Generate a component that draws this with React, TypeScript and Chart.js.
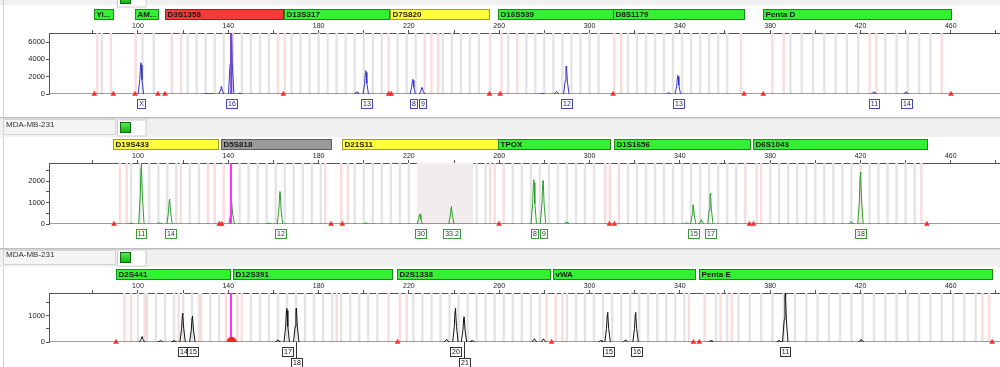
import React, { useEffect, useRef } from "react";
import { Chart, registerables } from "chart.js";

Chart.register(...registerables);

const FONT = 'Arial, "Liberation Sans", sans-serif';
const SAMPLE_NAME = "MDA-MB-231";

// shared size axis (bp)
const X_MIN = 60.6;
const X_MAX = 481.8;
const xTickValues = [80, 100, 120, 140, 160, 180, 200, 220, 240, 260, 280, 300, 320, 340, 360, 380, 400, 420, 440, 460, 480];
const xTickLabels = [100, 140, 180, 220, 260, 300, 340, 380, 420, 460];

// ---------- Panel 1 (blue dye) ----------
const p1LocusNames = ["Yi...", "AM...", "D3S1358", "D13S317", "D7S820", "D16S539", "D8S1179", "Penta D"];
const p1LocusStart = [80.5, 98.7, 112.0, 164.7, 211.6, 259.5, 310.6, 376.9];
const p1LocusEnd = [88.9, 108.9, 164.2, 211.2, 255.5, 310.2, 368.4, 460.1];
const p1LocusKind = ["green", "green", "red", "green", "yellow", "green", "green", "green"];
const p1PeakSizes = [101.3, 130.5, 132.6, 136.9, 141.3, 145.0, 196.9, 200.9, 221.7, 225.8, 279.0, 285.4, 289.7, 335.0, 339.1, 425.9, 440.2];
const p1PeakHeights = [3600, 60, 60, 840, 7600, 80, 250, 2690, 1700, 770, 80, 280, 3230, 150, 2160, 250, 250];
const p1AlleleSizes = [101.3, 141.3, 200.9, 221.7, 225.8, 289.7, 339.1, 425.9, 440.2];
const p1AlleleTexts = ["X", "16", "13", "8", "9", "12", "13", "11", "14"];
const p1AlleleRows = [0, 0, 0, 0, 0, 0, 0, 0, 0];
const p1Markers = [141.3];
const p1Triangles = [80.7, 89.1, 98.7, 108.8, 112.0, 164.4, 211.0, 212.2, 255.7, 260.4, 310.4, 368.4, 376.9, 460.1];
const p1Blobs: number[] = [];
const p1YTicks = [0, 1000, 2000, 3000, 4000, 5000, 6000, 7000];
const p1YLabels = [0, 2000, 4000, 6000];
const p1GreyBins = [84, 102, 107, 122, 126, 130, 134, 138, 142, 146, 150, 154, 158, 168, 172, 176, 180, 184, 188, 192, 196, 200, 204, 208, 215, 219, 223, 235, 239, 243, 247, 251, 264, 272, 276, 280, 284, 288, 292, 296, 300, 304, 317, 321, 325, 329, 333, 337, 341, 345, 349, 353, 357, 361, 389, 394, 399, 404, 409, 414, 419, 431, 436, 441, 446, 451];
const p1PinkBins = [82, 88, 99, 115, 119, 162, 165, 211, 227, 230, 233, 256, 261, 268, 311, 314, 367, 381, 386, 424, 427, 456];
const p1Bands: number[][] = [];

// ---------- Panel 2 (green dye) ----------
const p2LocusNames = ["D19S433", "D5S818", "D21S11", "TPOX", "D1S1656", "D6S1043"];
const p2LocusStart = [88.9, 136.8, 190.4, 259.5, 310.9, 372.4];
const p2LocusEnd = [135.4, 185.5, 259.3, 309.1, 371.1, 449.5];
const p2LocusKind = ["yellow", "grey", "yellow", "green", "green", "green"];
const p2PeakSizes = [97.0, 101.5, 109.5, 114.0, 141.5, 158.0, 162.9, 201.0, 224.8, 238.8, 275.3, 279.4, 289.9, 343.0, 345.9, 349.5, 353.5, 416.0, 420.0];
const p2PeakHeights = [50, 2800, 60, 1160, 970, 40, 1520, 60, 470, 810, 2070, 2020, 100, 60, 890, 200, 1440, 120, 2430];
const p2AlleleSizes = [101.5, 114.0, 162.9, 224.8, 238.8, 275.3, 279.4, 345.9, 353.5, 420.0];
const p2AlleleTexts = ["11", "14", "12", "30", "33.2", "8", "9", "15", "17", "18"];
const p2AlleleRows = [0, 0, 0, 0, 0, 0, 0, 0, 0, 0];
const p2Markers = [141.2];
const p2Triangles = [89.4, 136.0, 137.1, 185.5, 190.5, 259.9, 308.8, 311.0, 370.8, 372.6, 449.4];
const p2Blobs: number[] = [];
const p2YTicks = [0, 500, 1000, 1500, 2000, 2500];
const p2YLabels = [0, 1000, 2000];
const p2GreyBins = [97, 101, 105, 109, 113, 117, 123, 127, 141, 145, 149, 153, 157, 161, 165, 169, 173, 177, 181, 196, 200, 204, 208, 212, 216, 220, 250, 254, 266, 270, 274, 278, 282, 286, 290, 294, 298, 302, 317, 321, 325, 329, 333, 337, 341, 345, 349, 353, 357, 361, 365, 380, 384, 388, 392, 396, 400, 404, 408, 412, 416, 424, 428, 432, 436, 440, 444];
const p2PinkBins = [92, 95, 119, 131, 134, 138, 183, 190, 193, 256, 258, 262, 307, 309, 313, 369, 374, 376, 420, 447];
const p2Bands = [[223.5, 248.5]];

// ---------- Panel 3 (black dye) ----------
const p3LocusNames = ["D2S441", "D12S391", "D2S1338", "vWA", "Penta E"];
const p3LocusStart = [90.3, 142.1, 214.7, 283.8, 348.5];
const p3LocusEnd = [140.8, 212.5, 282.5, 346.7, 478.3];
const p3LocusKind = ["green", "green", "green", "green", "green"];
const p3PeakSizes = [101.8, 110.0, 116.0, 119.8, 124.1, 141.3, 162.0, 165.9, 170.1, 236.7, 240.6, 244.4, 248.0, 275.6, 279.6, 305.0, 308.0, 316.0, 320.4, 353.7, 384.0, 386.7, 420.3];
const p3PeakHeights = [200, 60, 60, 1100, 1000, 250, 80, 1290, 1290, 100, 1290, 970, 60, 120, 120, 60, 1130, 80, 1130, 60, 60, 1860, 100];
const p3AlleleSizes = [119.8, 124.1, 165.9, 170.1, 240.6, 244.4, 308.0, 320.4, 386.7];
const p3AlleleTexts = ["14", "15", "17", "18", "20", "21", "15", "16", "11"];
const p3AlleleRows = [0, 0, 0, 1, 0, 1, 0, 0, 0];
const p3Markers = [141.2];
const p3Triangles = [90.3, 215.0, 283.2, 346.0, 348.6, 478.3];
const p3Blobs = [141.5];
const p3YTicks = [0, 500, 1000, 1500];
const p3YLabels = [0, 1000];
const p3GreyBins = [100, 104, 108, 112, 116, 120, 124, 128, 132, 136, 150, 154, 158, 162, 166, 170, 174, 178, 182, 186, 190, 194, 198, 202, 206, 222, 226, 230, 234, 238, 242, 246, 250, 254, 258, 262, 266, 270, 274, 278, 290, 294, 298, 302, 306, 310, 314, 318, 322, 326, 330, 334, 338, 342, 356, 361, 366, 371, 376, 381, 386, 391, 396, 401, 406, 411, 416, 421, 426, 431, 436, 441, 446, 451, 456, 461, 466, 471];
const p3PinkBins = [94, 97, 103, 118, 127, 139, 144, 146, 188, 211, 216, 219, 281, 285, 288, 344, 351, 358, 363, 474, 477];
const p3Bands: number[][] = [];

const LOCUS_STYLE: Record<string, { fill: string; stroke: string }> = {
  green: { fill: "#33f033", stroke: "#1b8a1b" },
  red: { fill: "#f63a3a", stroke: "#a02020" },
  yellow: { fill: "#ffff3a", stroke: "#a0a020" },
  grey: { fill: "#9a9a9a", stroke: "#606060" },
};

type Panel = {
  top: number; height: number; padTop: number; padBottom: number; barTop: number;
  fullHeader: boolean; labelY: number; squareY: number; headerH: number;
  yMax: number; yTicks: number[]; yLabels: number[];
  dye: string; dyeBorder: string; dyeText: string; markerColor: string;
  names: string[]; starts: number[]; ends: number[]; kinds: string[];
  peakSizes: number[]; peakHeights: number[];
  alleleSizes: number[]; alleleTexts: string[]; alleleRows: number[];
  markers: number[]; triangles: number[]; blobs: number[];
  greyBins: number[]; pinkBins: number[]; bands: number[][];
};

const PANELS: Panel[] = [
  {
    top: 0, height: 117, padTop: 19, padBottom: 23, barTop: 9,
    fullHeader: false, labelY: 0, squareY: -7, headerH: 5,
    yMax: 7040, yTicks: p1YTicks, yLabels: p1YLabels,
    dye: "#3535c8", dyeBorder: "#4646b4", dyeText: "#23237a", markerColor: "#7a3fd8",
    names: p1LocusNames, starts: p1LocusStart, ends: p1LocusEnd, kinds: p1LocusKind,
    peakSizes: p1PeakSizes, peakHeights: p1PeakHeights,
    alleleSizes: p1AlleleSizes, alleleTexts: p1AlleleTexts, alleleRows: p1AlleleRows,
    markers: p1Markers, triangles: p1Triangles, blobs: p1Blobs,
    greyBins: p1GreyBins, pinkBins: p1PinkBins, bands: p1Bands,
  },
  {
    top: 117, height: 131, padTop: 32, padBottom: 24, barTop: 22,
    fullHeader: true, labelY: 8, squareY: 5, headerH: 20,
    yMax: 2850, yTicks: p2YTicks, yLabels: p2YLabels,
    dye: "#2e9e2e", dyeBorder: "#3a9a3a", dyeText: "#1d3d1d", markerColor: "#ff33ff",
    names: p2LocusNames, starts: p2LocusStart, ends: p2LocusEnd, kinds: p2LocusKind,
    peakSizes: p2PeakSizes, peakHeights: p2PeakHeights,
    alleleSizes: p2AlleleSizes, alleleTexts: p2AlleleTexts, alleleRows: p2AlleleRows,
    markers: p2Markers, triangles: p2Triangles, blobs: p2Blobs,
    greyBins: p2GreyBins, pinkBins: p2PinkBins, bands: p2Bands,
  },
  {
    top: 248, height: 119, padTop: 31, padBottom: 25, barTop: 21,
    fullHeader: true, labelY: 7, squareY: 4, headerH: 19,
    yMax: 1875, yTicks: p3YTicks, yLabels: p3YLabels,
    dye: "#111111", dyeBorder: "#333333", dyeText: "#111111", markerColor: "#ff33ff",
    names: p3LocusNames, starts: p3LocusStart, ends: p3LocusEnd, kinds: p3LocusKind,
    peakSizes: p3PeakSizes, peakHeights: p3PeakHeights,
    alleleSizes: p3AlleleSizes, alleleTexts: p3AlleleTexts, alleleRows: p3AlleleRows,
    markers: p3Markers, triangles: p3Triangles, blobs: p3Blobs,
    greyBins: p3GreyBins, pinkBins: p3PinkBins, bands: p3Bands,
  },
];

const HW = 1.2;

function buildTrace(sizes: number[], heights: number[]) {
  const pts: { x: number; y: number | null }[] = [];
  sizes.forEach((s, i) => {
    const h = heights[i];
    pts.push(
      { x: s - HW, y: 0 },
      { x: s - HW * 0.4, y: h * 0.46 },
      { x: s - HW * 0.12, y: h * 0.93 },
      { x: s, y: h },
      { x: s + HW * 0.12, y: h * 0.93 },
      { x: s + HW * 0.4, y: h * 0.46 },
      { x: s + HW, y: 0 },
      { x: s + HW + 0.001, y: null }
    );
  });
  return pts;
}

function buildMarkers(sizes: number[], top: number) {
  const pts: { x: number; y: number | null }[] = [];
  sizes.forEach((s) => {
    pts.push({ x: s, y: 0 }, { x: s, y: top }, { x: s + 0.001, y: null });
  });
  return pts;
}

function makeChart(canvas: HTMLCanvasElement, p: Panel, idx: number) {
  const plugin = {
    id: "stripPanel" + idx,
    beforeDraw(chart: any) {
      const ctx = chart.ctx as CanvasRenderingContext2D;
      const W = chart.width;
      const H = chart.height;
      const xs = chart.scales.x;
      ctx.save();
      ctx.fillStyle = "#ffffff";
      ctx.fillRect(0, 0, W, H);
      // header strip
      if (p.fullHeader) {
        ctx.fillStyle = "#f0f0f0";
        ctx.fillRect(0, 0, W, p.headerH);
        ctx.fillStyle = "#bdbdbd";
        ctx.fillRect(0, 0, W, 1.5);
        ctx.fillStyle = "#f4f4f4";
        ctx.fillRect(3.5, 2.5, 112, p.headerH - 5);
        ctx.strokeStyle = "#d2d2d2";
        ctx.lineWidth = 1;
        ctx.strokeRect(3.5, 2.5, 112, p.headerH - 5);
        ctx.fillStyle = "#333333";
        ctx.font = "8px " + FONT;
        ctx.textAlign = "left";
        ctx.textBaseline = "middle";
        ctx.fillText(SAMPLE_NAME, 6, p.labelY);
      } else {
        ctx.fillStyle = "#f0f0f0";
        ctx.fillRect(0, 0, W, p.headerH);
      }
      // box with green square
      ctx.fillStyle = "#ffffff";
      ctx.fillRect(117.5, p.squareY - 2, 28.5, 16);
      ctx.strokeStyle = "#cccccc";
      ctx.lineWidth = 1;
      ctx.strokeRect(117.5, p.squareY - 2, 28.5, 16);
      const g = ctx.createLinearGradient(0, p.squareY, 0, p.squareY + 11);
      g.addColorStop(0, "#5cf05c");
      g.addColorStop(1, "#10b010");
      ctx.fillStyle = g;
      ctx.fillRect(120.5, p.squareY + 0.5, 10, 10);
      ctx.strokeStyle = "#0a6a0a";
      ctx.strokeRect(120.5, p.squareY + 0.5, 10, 10);
      // left frame line
      ctx.fillStyle = "#cfcfcf";
      ctx.fillRect(3, p.fullHeader ? p.headerH : 0, 1, H);
      // locus bars
      ctx.font = "bold 8px " + FONT;
      ctx.textAlign = "left";
      ctx.textBaseline = "middle";
      p.names.forEach((name, i) => {
        const x0 = Math.round(xs.getPixelForValue(p.starts[i])) + 0.5;
        const x1 = Math.round(xs.getPixelForValue(p.ends[i])) + 0.5;
        const st = LOCUS_STYLE[p.kinds[i]];
        ctx.fillStyle = st.fill;
        ctx.fillRect(x0, p.barTop + 0.5, x1 - x0, 10);
        ctx.strokeStyle = st.stroke;
        ctx.strokeRect(x0, p.barTop + 0.5, x1 - x0, 10);
        ctx.save();
        ctx.beginPath();
        ctx.rect(x0, p.barTop, x1 - x0, 11);
        ctx.clip();
        ctx.fillStyle = "#1a1a1a";
        ctx.fillText(name, x0 + 2, p.barTop + 6);
        ctx.restore();
      });
      ctx.restore();
    },
    beforeDatasetsDraw(chart: any) {
      const ctx = chart.ctx as CanvasRenderingContext2D;
      const xs = chart.scales.x;
      const a = chart.chartArea;
      ctx.save();
      ctx.beginPath();
      ctx.rect(a.left, a.top, a.right - a.left, a.bottom - a.top);
      ctx.clip();
      p.bands.forEach((b) => {
        const x0 = xs.getPixelForValue(b[0]);
        const x1 = xs.getPixelForValue(b[1]);
        ctx.fillStyle = "#f2ecec";
        ctx.fillRect(x0, a.top, x1 - x0, a.bottom - a.top);
      });
      p.greyBins.forEach((b) => {
        const x = xs.getPixelForValue(b);
        ctx.fillStyle = "#e4e4e4";
        ctx.fillRect(x - 1.2, a.top, 2.4, a.bottom - a.top);
      });
      p.pinkBins.forEach((b) => {
        const x = xs.getPixelForValue(b);
        ctx.fillStyle = "#f9dcdc";
        ctx.fillRect(x - 1.2, a.top, 2.4, a.bottom - a.top);
      });
      ctx.restore();
    },
    afterDatasetsDraw(chart: any) {
      const ctx = chart.ctx as CanvasRenderingContext2D;
      const xs = chart.scales.x;
      const base = chart.scales.y.getPixelForValue(0);
      ctx.save();
      ctx.font = "7px " + FONT;
      ctx.textAlign = "center";
      ctx.textBaseline = "middle";
      ctx.lineWidth = 1;
      p.alleleSizes.forEach((s, i) => {
        const x = Math.round(xs.getPixelForValue(s));
        const txt = p.alleleTexts[i];
        const w = Math.round(ctx.measureText(txt).width + 3);
        const top = Math.round(base + 5 + p.alleleRows[i] * 11) + 0.5;
        const left = Math.round(x - w / 2) + 0.5;
        ctx.strokeStyle = p.dyeBorder;
        if (p.alleleRows[i] > 0) {
          ctx.beginPath();
          ctx.moveTo(x + 0.5, base);
          ctx.lineTo(x + 0.5, top);
          ctx.stroke();
        }
        ctx.fillStyle = "#ffffff";
        ctx.fillRect(left, top, w, 9);
        ctx.strokeRect(left, top, w, 9);
        ctx.fillStyle = p.dyeText;
        ctx.fillText(txt, left + w / 2, top + 5);
      });
      ctx.restore();
    },
  };

  return new Chart(canvas, {
    type: "line",
    data: {
      datasets: [
        {
          type: "line",
          data: [{ x: X_MIN, y: 0 }, { x: X_MAX, y: 0 }],
          borderColor: "#3a3a3a",
          borderWidth: 1,
          pointRadius: 0,
          order: 6,
        } as any,
        {
          type: "line",
          data: buildTrace(p.peakSizes, p.peakHeights),
          borderColor: p.dye,
          borderWidth: 1,
          pointRadius: 0,
          spanGaps: false,
          order: 5,
        },
        {
          type: "line",
          data: buildMarkers(p.markers, p.yMax * 1.3),
          borderColor: p.markerColor,
          borderWidth: 2,
          pointRadius: 0,
          spanGaps: false,
          order: 4,
        },
        {
          type: "scatter",
          data: p.blobs.map((b) => ({ x: b, y: 0 })),
          pointRadius: 5,
          pointStyle: "circle",
          backgroundColor: "#ff2020",
          borderWidth: 0,
          clip: 0,
          order: 3,
        },
        {
          type: "scatter",
          data: p.triangles.map((t) => ({ x: t, y: 0 })),
          pointRadius: 3.3,
          pointStyle: "triangle",
          backgroundColor: "#ff2a2a",
          borderWidth: 0,
          clip: false,
          order: 2,
        },
      ] as any,
    },
    options: {
      responsive: false,
      animation: false,
      devicePixelRatio: 1,
      events: [],
      layout: { autoPadding: false, padding: { top: p.padTop, bottom: p.padBottom, left: 0, right: 0 } },
      plugins: { legend: { display: false }, tooltip: { enabled: false } },
      elements: { line: { tension: 0 } },
      scales: {
        x: {
          type: "linear",
          position: "top",
          min: X_MIN,
          max: X_MAX,
          afterBuildTicks: (s: any) => {
            s.ticks = xTickValues.map((v) => ({ value: v }));
          },
          afterFit: (s: any) => {
            s.height = 14;
          },
          ticks: {
            autoSkip: false,
            maxRotation: 0,
            padding: 0,
            color: "#222",
            font: { size: 7, family: FONT },
            callback: (v: any) => (xTickLabels.includes(Number(v)) ? String(v) : ""),
          },
          grid: { drawOnChartArea: false, drawTicks: true, tickLength: 3, color: "#555" },
          border: { display: true, color: "#555" },
        },
        y: {
          type: "linear",
          min: 0,
          max: p.yMax,
          afterBuildTicks: (s: any) => {
            s.ticks = p.yTicks.map((v) => ({ value: v }));
          },
          afterFit: (s: any) => {
            s.width = 49;
          },
          ticks: {
            padding: 1,
            color: "#222",
            font: { size: 7.5, family: FONT },
            callback: (v: any) => (p.yLabels.includes(Number(v)) ? String(v) : ""),
          },
          grid: { drawOnChartArea: false, drawTicks: true, tickLength: 3, color: "#555" },
          border: { display: true, color: "#555" },
        },
      },
    } as any,
    plugins: [plugin],
  });
}

export default function App() {
  const r0 = useRef<HTMLCanvasElement>(null);
  const r1 = useRef<HTMLCanvasElement>(null);
  const r2 = useRef<HTMLCanvasElement>(null);
  const refs = [r0, r1, r2];

  useEffect(() => {
    const charts = PANELS.map((p, i) => makeChart(refs[i].current as HTMLCanvasElement, p, i));
    return () => charts.forEach((c) => c.destroy());
  }, []);

  return (
    <div
      style={{
        position: "absolute",
        left: 0,
        top: 0,
        width: 1000,
        height: 367,
        overflow: "hidden",
        background: "#fff",
      }}
    >
      {PANELS.map((p, i) => (
        <canvas
          key={i}
          ref={refs[i]}
          width={1000}
          height={p.height}
          style={{ position: "absolute", left: 0, top: p.top, display: "block", width: 1000, height: p.height }}
        />
      ))}
    </div>
  );
}
